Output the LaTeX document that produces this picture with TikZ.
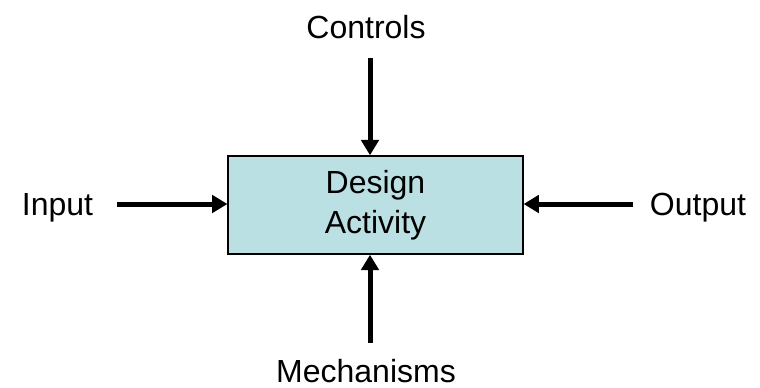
\documentclass[tikz,border=0pt]{standalone}
\usepackage{fontspec}
\setmainfont{Liberation Sans}
\usetikzlibrary{arrows.meta}

\definecolor{boxfill}{HTML}{BBE0E3}

\begin{document}
\begin{tikzpicture}[x=0.75pt, y=-0.75pt,
		tag/.style={font=\fontsize{24}{30}\selectfont, anchor=base, inner sep=0pt},
		flow/.style={line width=3.75pt, -{Triangle[length=11.5pt, width=13pt]}}]
		\useasboundingbox (0, 0) rectangle (760, 387);

		% the activity box
		\node [draw, line width=1.1pt, fill=boxfill, minimum width=221pt, minimum height=73.5pt,
			align=center, font=\fontsize{24}{30}\selectfont] (activity) at (375.5, 205) {Design\\Activity};

		% the four labels round it
		\node [tag] (controls) at (366, 38) {Controls};
		\node [tag] (input) at (57.5, 215) {Input};
		\node [tag] (output) at (698, 215) {Output};
		\node [tag] (mechanisms) at (366, 382) {Mechanisms};

		\coordinate (ctrl tail) at (370, 58);
		\coordinate (in tail) at (117, 204);
		\coordinate (out tail) at (633, 204);
		\coordinate (mech tail) at (370, 343);

		\draw [flow] (ctrl tail) -- (ctrl tail |- activity.north);
		\draw [flow] (in tail) -- (in tail -| activity.west);
		\draw [flow] (out tail) -- (out tail -| activity.east);
		\draw [flow] (mech tail) -- (mech tail |- activity.south);
	\end{tikzpicture}
\end{document}
